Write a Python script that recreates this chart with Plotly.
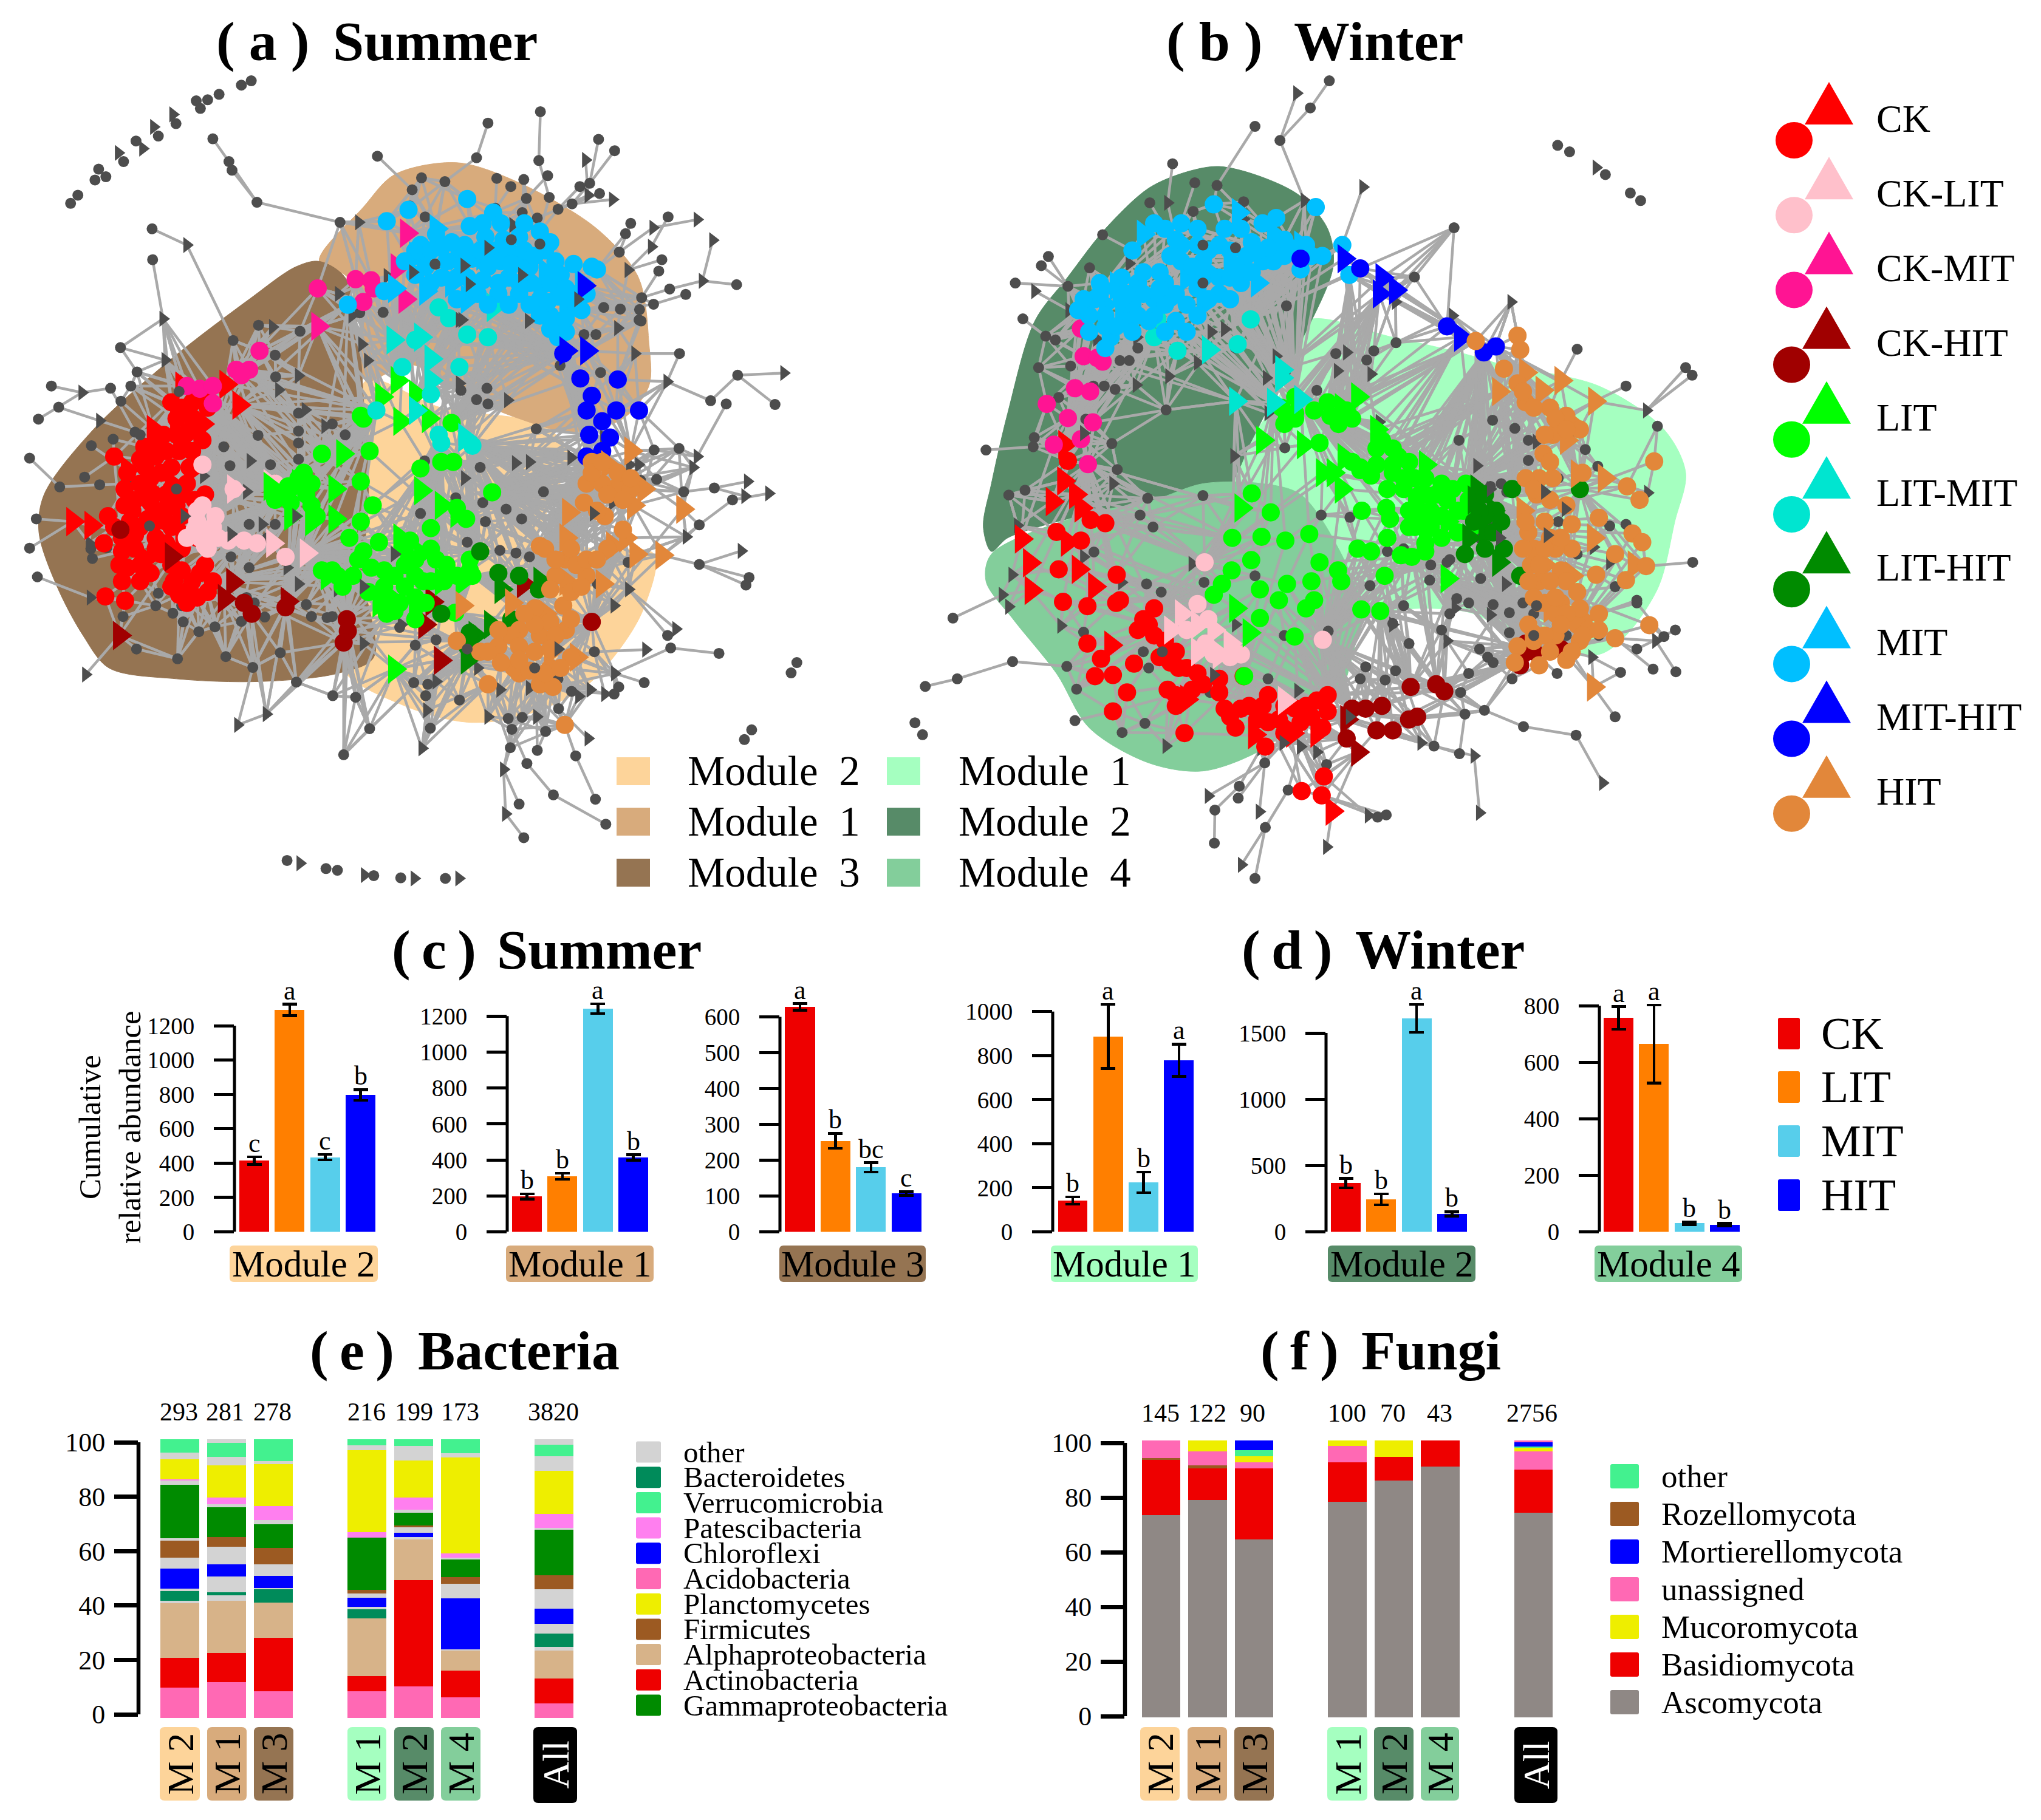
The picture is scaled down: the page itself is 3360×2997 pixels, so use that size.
import numpy as np
import plotly.graph_objects as go

W, H = 3360, 2997
FONT = "Liberation Serif"

# ---------- colours ----------
GROUP_COLORS = {"CK": "#FF0000", "CK-LIT": "#FFC0CB", "CK-MIT": "#FF1493", "CK-HIT": "#A00000",
                "LIT": "#00FF00", "LIT-MIT": "#00E5D0", "LIT-HIT": "#008B00", "MIT": "#00BFFF",
                "MIT-HIT": "#0000FF", "HIT": "#E2873A"}
GROUP_NAMES = list(GROUP_COLORS)
MOD_S = {"Module 2": "#FDD49A", "Module 1": "#D8AB7C", "Module 3": "#957452"}
MOD_W = {"Module 1": "#A5FFC0", "Module 2": "#578B68", "Module 4": "#83CE9B"}
TREAT = ["CK", "LIT", "MIT", "HIT"]
TREAT_COL = ["#EE0000", "#FF7F00", "#57CEEB", "#0000FF"]
GRAY = "#4D4D4D"

# ---------- module hull outlines ----------
S_M2 = [(705,590),(850,640),(1040,670),(1095,720),(1075,790),(1040,880),(1150,900),(1260,910),(1240,1010),(1190,1090),(1120,1160),(1000,1210),(900,1220),(780,1190),(660,1120),(700,1000),(705,800)]
S_M1 = [(615,370),(700,270),(760,210),(880,188),(1000,225),(1150,310),(1230,400),(1250,520),(1250,600),(1200,660),(1100,685),(1000,660),(900,620),(790,560),(705,590),(695,500),(670,400)]
S_M3 = [(615,370),(665,400),(690,500),(700,620),(710,800),(700,950),(720,1100),(650,1130),(500,1145),(340,1140),(210,1120),(160,1060),(110,970),(75,870),(85,800),(180,680),(330,550),(480,440),(570,380)]
W_M1 = [(840,480),(1000,510),(1130,540),(1200,560),(1380,600),(1500,680),(1540,760),(1520,850),(1490,970),(1430,1060),(1380,1095),(1250,1080),(1150,1020),(1050,1010),(960,1020),(880,1030),(720,950),(700,800),(740,700),(800,600)]
W_M2 = [(680,195),(760,215),(830,250),(880,310),(890,380),(830,520),(790,600),(740,700),(690,790),(560,810),(420,840),(290,880),(260,905),(245,860),(260,780),(290,650),(340,480),(400,400),(470,310),(550,235),(620,205)]
W_M4 = [(650,780),(760,780),(830,800),(900,900),(945,1020),(930,1080),(900,1170),(850,1200),(760,1270),(650,1310),(550,1295),(440,1230),(380,1130),(300,1030),(250,960),(260,910),(420,840),(560,810)]

# ---------- summer network nodes ----------
S_GRAY_C = [(410,144),(441,186),(447,202),(495,261),(655,298),(293,310),(294,367),(727,176),(940,115),(1041,94),(918,179),(1038,184),(1055,212),(812,216),(857,223),(957,217),(1009,219),(984,232),(1153,145),(1184,166),(1136,226),(1117,232),(1155,245),(794,238),(1014,254),(1058,252),(1075,274),(1102,264),(1006,280),(954,272),(790,268),(1035,290),(819,288),(1215,300),(1287,288),(1205,319),(1193,353),(1275,367),(1269,388),(1419,413),(1290,421),(1321,431),(1236,437),(1259,449),(1195,458),(1163,455),(1232,459),(1231,478),(1235,480),(1148,505),(1125,505),(1309,540),(1157,575),(1079,562),(1421,580),(1369,627),(1399,633),(1493,634),(1260,718),(1308,715),(1265,772),(1317,795),(1376,788),(1411,810),(1347,856),(1234,774),(1347,929),(1443,953),(1437,967),(1210,925),(1151,965),(1292,1083),(1286,1060),(1385,1093),(1241,1147),(1192,1155),(1183,1168),(1101,1163),(1076,1195),(1048,1155),(1109,1282),(1147,1362),(1167,1408),(1066,1354),(1035,1272),(1051,1237),(1009,1433),(1000,1371),(1015,1296),(983,1267),(979,1213),(1006,1211),(986,1233),(885,1179),(829,1231),(820,1171),(824,1150),(797,1147),(712,1232),(662,1280),(685,1174),(641,1171),(571,1146),(487,1119),(435,1099),(342,1103),(263,1085),(383,1053),(414,1044),(465,1034),(353,1035),(333,1019),(237,1025),(300,1005),(305,982),(510,1026),(540,1092),(600,1025),(590,1003),(630,1027),(175,900),(206,898),(57,733),(99,600),(113,639),(74,661),(232,529),(264,574),(213,604),(252,600),(233,628),(218,698),(176,710),(163,768),(115,786),(192,782),(70,845),(57,899),(72,952),(178,918),(449,516),(498,488),(578,499),(530,543),(531,583),(575,650),(497,691),(431,712),(443,747),(521,745),(575,683),(575,705),(575,735),(665,690),(738,464),(693,465),(840,375),(938,604),(940,633),(888,608),(918,625),(818,738),(925,750),(878,806),(810,835),(930,815),(975,827),(1047,795),(1033,679),(1005,845),(935,850),(900,888),(963,903),(994,908),(1020,915),(1075,1140),(1145,1090),(640,670),(490,1000),(475,990),(350,1005),(285,790),(245,780),(260,685),(288,858),(480,855),(530,855),(515,880),(445,915),(480,935),(640,1025),(770,1045),(800,1078),(840,1068)]
S_GRAY_T = [(158,612),(192,664),(318,552),(314,476),(360,340),(691,298),(525,491),(575,581),(537,607),(588,644),(626,674),(482,738),(392,766),(172,890),(174,990),(165,1132),(458,1225),(513,1205),(813,1268),(822,1198),(940,1210),(1133,1250),(970,1307),(974,1389),(1034,1210),(963,1160),(1020,1157),(1115,1172),(1137,1160),(1165,1168),(1184,1130),(1244,1086),(1302,1048),(1211,975),(1183,1005),(1322,878),(1428,904),(1481,798),(1440,776),(1435,803),(1335,750),(1343,730),(1510,576),(1285,592),(1223,540),(1190,493),(1353,406),(1373,331),(1343,293),(1258,308),(1255,343),(1210,386),(1128,183),(1180,256),(1133,248),(988,303),(947,345),(894,378),(904,412),(795,390),(746,397),(652,430),(678,470),(708,553),(697,523),(885,595),(978,626),(993,742),(1020,740),(1100,732),(1230,745),(1213,745),(1180,815),(1143,835),(1075,1085),(920,1120),(840,1145),(773,1040),(700,1075),(628,945),(650,975),(575,965),(553,935),(505,855),(445,873),(475,795),(585,775),(570,840),(760,910),(895,770),(1018,480),(1163,695),(1113,440),(1005,395),(890,478)]
S_ISO_C = [(136,263),(150,248),(183,220),(190,200),(204,214),(238,186),(262,148),(305,139),(339,116),(378,74),(386,88),(400,72),(422,62),(465,45),(484,37),(553,1475),(628,1490),(650,1493),(720,1503),(772,1507),(858,1508),(1535,1110),(1524,1129),(1448,1234),(1434,1252)]
S_ISO_T = [(228,170),(275,162),(296,122),(333,99),(578,1480),(702,1502),(798,1508),(884,1508)]
S_TOP_C = [(838,375),(985,330),(1040,338),(1030,1120),(900,1085),(288,858),(340,790),(270,690),(345,610)]
S_TOP_T = [(940,345),(894,378),(1005,395),(904,412),(795,390),(1113,440),(885,478),(1018,480),(355,840),(445,873),(570,840),(760,910),(700,970),(1143,835),(1075,1085)]
S_NODES = {
 "CK": ([(203,988),(241,996),(208,840),(240,820),(278,712),(220,730),(245,760),(280,795),(300,830),(260,810),(235,880),(200,890),(260,900),(300,880),(330,860),(340,820),(360,780),(330,750),(300,730),(350,700),(380,680),(340,660),(370,630),(400,640),(245,935),(235,960),(270,960),(330,970),(370,960),(380,990),(410,960),(395,930),(350,940),(310,910),(270,930),(290,770),(330,790),(375,810),(350,900),(380,880),(315,690),(285,845),(250,850),(395,800),(370,720),
         (270,735),(240,790),(310,760),(345,720),(365,750),(320,800),(290,815),(320,850),(270,860),(300,900),(260,875),(235,905),(290,945),(345,985),(400,980),(365,975),(385,945),(330,930),(350,800),(300,700),(370,660),(340,690),(390,700),(320,720),(280,750),(255,830),(220,860),(300,850),(320,890),(335,960),(360,1000),(230,930),(350,640),(330,630),(390,620),(350,840),(270,780)],
        [(140,850),(175,857),(350,600),(375,630),(435,597),(460,635),(295,680),(340,660),(360,690),(390,670),(245,755),(375,750),(300,800),(320,830),(350,870),(280,920),(330,780)]),
 "CK-LIT": ([(390,820),(390,745),(450,790),(530,780),(550,915),(410,860),(385,880),(440,885),(470,885),(495,890),(400,900),(360,880),(380,850),(380,830),(400,870),(420,880),(375,865),(395,895),(415,840)],
            [(525,890),(590,908),(450,790),(520,780)]),
 "CK-MIT": ([(612,420),(685,403),(715,405),(700,445),(720,420),(500,535),(455,570),(480,570),(465,580),(410,632),(385,605),(410,600),(360,600)],
            [(783,318),(765,382),(780,440),(612,490)]),
 "CK-HIT": ([(232,865),(485,1020),(550,1008),(668,1030),(670,1052),(662,1073),(1140,1035),(470,1000)],
            [(230,1060),(448,962),(432,992),(330,915),(553,997),(818,1040),(832,998),(848,1106),(1008,965)]),
 "LIT": ([(712,720),(695,655),(810,752),(850,740),(873,740),(695,776),(948,796),(718,820),(695,850),(830,862),(898,845),(880,825),(870,668),(620,725),(585,760),(555,785),(590,800),(530,810),(610,840),(673,880),(730,888),(700,905),(640,940),(680,950),(715,935),(660,970),(740,970),(770,1000),(745,1020),(800,990),(815,960),(860,930),(905,920),(910,950),(855,960),(877,1018),(800,920),(790,885),(820,1000),(700,660),
         (760,950),(780,930),(800,950),(830,960),(840,920),(880,950),(780,970),(740,940),(710,980),(745,990),(690,920),(650,950),(620,940),(560,815),(600,820),(575,770),(600,780),(540,800),(760,1015),(800,1030),(905,940),(780,900),(830,900)],
         [(810,793),(645,790),(560,840),(600,850),(645,845),(770,880),(850,820),(880,835),(735,620),(765,590),(800,615),(770,665),(825,660),(660,725),(630,950),(730,1000),(765,1000),(810,910),(850,960),(760,1122),(520,785),(575,780),(890,960),(800,1010)]),
 "LIT-MIT": ([(725,645),(775,565),(830,615),(885,565),(940,510),(900,505),(865,475),(845,455),(800,515),(845,690),(850,705),(910,710)],
             [(757,515),(810,510),(830,550),(830,590),(950,455),(800,645),(895,695)]),
 "LIT-HIT": ([(925,905),(985,1030),(1038,975),(900,1080),(1000,950),(960,945),(850,1020),(905,1055)],
             [(965,975),(945,1040),(900,1105),(915,1060),(1040,960)]),
 "MIT": ([(745,296),(787,275),(900,255),(950,280),(905,305),(935,325),(965,300),(1000,325),(1040,315),(1060,335),(1105,375),(1140,380),(840,320),(800,350),(820,380),(860,370),(900,400),(940,380),(980,400),(1020,380),(1060,410),(1100,440),(1075,480),(1120,460),(1040,440),(1000,430),(960,430),(920,430),(880,440),(1090,500),(1060,470),(1050,350),(980,350),(895,340),(670,450),(740,425),
         (810,340),(830,350),(850,345),(870,335),(890,375),(910,365),(925,350),(950,350),(965,370),(985,375),(1010,350),(1030,360),(1070,370),(1080,395),(1090,420),(1075,435),(1055,445),(1020,410),(1000,410),(960,410),(930,405),(910,420),(880,400),(850,400),(830,410),(800,395),(780,370),(1060,495),(1090,475),(1110,430),(1040,470),(1020,450),(980,450),(940,450),(1075,510),(1130,430),(1150,385),(1010,300),(970,330),(930,300)],
         [(840,310),(880,360),(800,360),(930,360),(1000,370),(1050,390),(1090,460),(1120,410),(760,420),(820,425),(870,410),(900,440),(1040,420)]),
 "MIT-HIT": ([(1118,586),(1190,588),(1231,645),(1140,618),(1130,645),(1187,645),(1160,665),(1135,690),(1175,695),(1130,730),(1160,720),(1085,540)],
             [(1090,535),(1130,535),(1125,415)]),
 "HIT": ([(1088,1225),(1040,1150),(940,1150),(1065,1155),(1000,1130),(1060,1120),(960,1080),(1040,1060),(1090,1050),(1085,1005),(1030,1010),(1000,1050),(1140,740),(1190,785),(1130,780),(1215,790),(1125,815),(1165,840),(1040,895),(1090,920),(1130,950),(1070,950),(880,1070),(925,1090),(990,1120),(1100,1100),
          (1050,900),(1070,920),(1100,900),(1110,930),(1130,920),(1060,975),(1100,980),(1120,970),(1100,1030),(1060,1035),(1070,1060),(1030,1040),(1010,1020),(985,1060),(960,1050),(1000,1080),(1030,1090),(1060,1085),(1000,1105),(965,1110),(940,1090),(1020,1125),(1050,1130),(1080,1120),(1160,780),(1190,760),(1170,800),(1215,770),(1200,810),(1150,830),(1170,900),(1200,865),(1150,920),(1140,760),(1160,740)],
         [(1315,827),(1275,912),(1225,910),(1095,833),(1205,880),(1180,895),(1160,965),(1090,880),(1240,790),(1215,720),(1170,745),(1220,820),(1060,1090),(1110,1100),(985,1000),(890,1005),(1050,1020),(1090,960)]),
}

# ---------- winter network nodes ----------
W_GRAY_C = [(883,37),(848,87),(746,121),(792,147),(594,190),(635,225),(676,230),(725,260),(552,262),(632,278),(465,321),(365,361),(352,378),(304,410),(441,382),(401,416),(318,476),(378,515),(360,508),(347,566),(406,563),(384,621),(448,600),(488,606),(468,600),(497,553),(514,553),(530,530),(250,718),(337,712),(339,695),(292,801),(322,792),(434,661),(482,706),(492,754),(548,807),(534,838),(558,860),(650,802),(582,644),(710,530),(804,452),(802,574),(860,608),(801,714),(1113,308),(1040,399),(1006,520),(965,535),(952,552),(895,540),(1340,532),(1430,600),(1540,566),(1552,580),(1488,674),(1378,748),(1355,717),(1325,690),(1184,663),(1122,700),(1225,678),(1250,737),(1277,730),(1210,795),(1180,785),(1553,925),(1522,1127),(1480,1122),(1521,1050),(1500,1062),(1450,995),(1410,970),(1400,858),(1340,910),(1410,1210),(1338,1244),(1241,1228),(1169,1198),(1133,1205),(1123,1278),(1076,1264),(988,1391),(972,1395),(878,1298),(807,1345),(765,1414),(746,1508),(671,1443),(715,1360),(717,1338),(672,1382),(764,1295),(417,1159),(399,1117),(414,1217),(501,1239),(543,1222),(138,1154),(197,1140),(299,1108),(189,1028),(430,1054),(449,906),(546,965),(573,980),(652,962),(746,950),(800,1060),(881,1052),(958,968),(950,1118),(940,1140),(986,1142),(1005,1125),(1030,1075),(1000,1038),(1020,1005),(1105,920),(1068,958),(1140,1000),(1118,992),(1162,955),(1185,1003),(1215,1018),(1240,1000),(1215,1055),(1185,1110),(1160,1085),(1090,1050),(1140,1130),(1125,1165),(1175,1100),(770,1140),(663,1165),(575,1095),(550,1120),(1220,1140),(1260,1020),(1260,1060),(1320,1060),(1305,1090),(1303,1130),(1420,1128),(1380,1060),(1450,1000),(1450,1085),(1430,855),(1180,860),(1160,880),(921,842),(868,838),(1305,850),(1305,770),(1250,700),(1200,780),(1160,790),(1100,925),(990,905),(1020,900),(1070,930),(1105,1020)]
W_GRAY_T = [(823,60),(945,233),(720,275),(837,258),(585,262),(725,292),(514,374),(340,425),(403,460),(454,513),(528,510),(690,495),(665,500),(527,598),(640,557),(587,582),(785,545),(430,687),(484,780),(308,857),(298,948),(280,985),(292,1007),(388,1042),(430,915),(500,962),(630,928),(710,1040),(582,1264),(660,1356),(754,1385),(721,1483),(878,1450),(955,1392),(1052,1258),(1150,1282),(1160,1387),(1387,1332),(1218,445),(1005,445),(1110,470),(915,538),(898,572),(960,578),(975,666),(1468,645),(1470,797),(1318,827),(1285,875),(1280,795),(1370,897),(1155,747),(1400,925),(1208,965),(1115,1010),(1100,1070),(1180,1022),(1485,1070),(1367,1100),(670,1133),(825,1162),(860,1275),(830,1265),(798,1258),(757,1268),(920,1210),(707,729),(770,650),(767,585),(1197,880),(1265,703),(1000,1040)]
W_ISO_C = [(1304,156),(1326,168),(1392,210),(1438,244),(1457,258),(119,1221),(133,1243)]
W_ISO_T = [(1375,197)]
W_TOP_C = [(650,410),(650,340),(710,345),(1265,1005),(1260,1060),(540,1090),(575,1090)]
W_TOP_T = [(690,495),(665,500),(430,687),(1280,795),(1318,827),(1285,875),(670,1133),(830,1265),(798,1258),(920,1210),(1197,880),(1180,790)]
W_NODES = {
 "CK": ([(401,738),(443,847),(470,853),(380,869),(425,885),(384,938),(491,948),(392,998),(437,1006),(490,1000),(497,995),(437,1075),(462,1103),(523,1112),(484,1133),(451,1135),(510,1165),(484,1200),(616,1240),(560,1010),(530,1050),(580,1070),(605,1120),(640,1130),(585,1160),(600,1190),(690,1195),(710,1230),(735,1190),(770,1170),(790,1215),(830,1220),(860,1180),(880,1170),(870,1230),(765,1265),(873,1320),(832,1347),(869,1355),(725,1135),(680,1165),(550,1040),
         (720,1195),(750,1215),(760,1190),(800,1190),(820,1195),(840,1190),(850,1210),(800,1240),(770,1220),(880,1200),(700,1210),(570,1100),(590,1110),(620,1120),(650,1150),(630,1160),(600,1170),(540,1030),(560,1060),(600,1090),(680,1140)],
        [(395,708),(393,775),(372,813),(415,800),(425,825),(315,882),(330,926),(400,888),(420,938),(333,977),(450,970),(480,1078),(620,1178),(745,1243),(815,1240),(888,1384),(860,1240)]),
 "CK-LIT": ([(653,925),(871,1068),(640,1002),(720,1095),(700,1100),(620,1050),(660,1030),(655,1075),(670,1095)],
            [(610,1020),(640,1040),(670,1050),(640,1090),(680,1095),(700,1075),(800,1180),(590,1050)]),
 "CK-MIT": ([(362,633),(401,659),(447,667),(375,708),(425,698),(438,744),(414,604),(442,610),(430,545),(455,548),(465,555),(425,494),(431,460)], []),
 "CK-HIT": ([(1033,1155),(1080,1150),(1095,1163),(1030,1215),(1045,1210),(1000,1235),(970,1235),(980,1190),(950,1195),(925,1195),(915,1250),(1235,1115),(1245,1075),(1310,1085),(1260,1090),(1240,1095)],
            [(935,1275),(915,1215)]),
 "LIT": ([(740,798),(775,833),(704,880),(758,878),(802,885),(846,873),(739,921),(703,940),(865,925),(850,960),(899,940),(905,960),(960,905),(935,900),(985,950),(942,1012),(977,1015),(755,1028),(819,1062),(726,1135),(685,965),(670,985),(755,975),(805,965),(790,995),(855,995),(840,1010),(1015,912),(1035,915),(1060,905),(990,880),(995,845),(988,825),(943,830),(865,705),(925,660),(885,655),(855,645),(990,790),(1000,715),(970,715),(1030,740),(1080,800),(1050,800),(1100,810),(1030,830),(1070,860),(940,750),(960,765),(1000,745),(795,640),(820,650),(1135,780),
          (1040,770),(1060,770),(1090,780),(1110,790),(1070,830),(1050,840),(1090,840),(1120,830),(1120,870),(1090,880),(1060,890),(1040,860),(1020,790),(1000,760),(970,745),(1020,770),(1060,800),(1030,860),(1130,830),(1140,810),(820,620),(800,670),(880,630),(915,645),(900,670),(820,660),(940,755),(925,740),(980,700),(1010,730)],
         [(890,760),(905,790),(720,825),(760,700),(835,708),(910,732),(935,620),(800,650),(905,640),(970,680),(1060,745),(1040,820),(1100,850),(1150,860),(1100,955),(735,1055),(710,1010),(1060,870),(870,760)]),
 "LIT-MIT": ([(566,476),(738,477),(603,535),(714,523),(560,510)],
             [(660,533),(710,628),(795,570),(795,585),(830,625),(780,630)]),
 "LIT-HIT": ([(1220,790),(1345,790),(1133,910),(1235,950),(1190,830),(1170,840),(1170,800),(1160,830),(1200,850),(1185,870),(1205,900),(1150,850),(1170,900)],
             [(1155,790),(1150,810),(1185,830),(1140,880),(1195,925),(1170,870)]),
 "MIT": ([(670,265),(858,270),(560,300),(520,350),(785,290),(610,300),(640,310),(740,335),(830,385),(907,340),(870,360),(840,340),(800,330),(760,370),(720,380),(680,340),(650,370),(610,370),(570,390),(530,410),(490,420),(450,440),(420,460),(470,470),(510,480),(480,510),(520,450),(560,440),(600,430),(640,420),(680,430),(720,410),(600,480),(640,470),(560,470),(920,395),
         (440,470),(460,430),(470,490),(500,440),(490,490),(530,470),(540,430),(550,480),(580,410),(620,450),(580,450),(650,400),(680,400),(700,400),(740,390),(780,370),(800,360),(700,350),(640,340),(610,340),(590,360),(540,390),(510,430),(440,500),(520,500),(470,530),(620,500),(580,500),(660,440),(700,440),(660,350),(770,345),(810,345),(850,360),(750,350),(730,360),(690,310),(720,310),(760,300),(600,330),(570,420),(460,410),(430,440),(500,400),(580,310),(630,380)],
         [(540,320),(715,280),(780,320),(790,350),(830,340),(490,415),(470,450),(500,470),(620,400),(660,390),(700,370),(590,440),(650,450),(750,410)]),
 "MIT-HIT": ([(830,365),(940,383),(1100,490),(1190,527),(1168,538)],
             [(980,400),(975,430),(1005,423),(1125,510),(910,365)]),
 "HIT": ([(1230,507),(1235,533),(1153,517),(1205,568),(1230,595),(1245,630),(1290,640),(1320,655),(1345,680),(1295,690),(1278,725),(1482,739),(1432,785),(1455,810),(1380,843),(1442,872),(1460,888),(1410,910),(1467,932),(1430,958),(1375,948),(1473,1041),(1410,1065),(1380,1020),(1340,1040),(1310,1000),(1270,960),(1310,940),(1330,900),(1260,900),(1280,850),(1330,855),(1270,770),(1295,770),(1350,760),(1250,1040),(1300,1060),(1230,1080),(1225,1110),(1270,1115),(1320,1105),(1280,1000),(1320,960),(1255,930),(1300,900),(1345,1010),(1345,1070),
          (1265,800),(1290,810),(1320,820),(1250,870),(1290,880),(1310,880),(1250,960),(1280,900),(1290,960),(1270,1000),(1300,1020),(1320,1020),(1260,1070),(1280,1060),(1340,980),(1290,1090),(1330,1090),(1360,1050),(1380,1050),(1260,990),(1310,1040),(1350,1060),(1240,900),(1270,930),(1300,990),(1245,770),(1290,740),(1240,610),(1260,640),(1300,660),(1280,690),(1320,680),(1260,790),(1245,850)],
         [(1195,610),(1245,575),(1275,608),(1310,590),(1372,628),(1325,665),(1320,700),(1340,762),(1390,770),(1240,830),(1280,930),(1370,880),(1445,930),(1370,1155),(1330,950),(1290,1010),(1255,1050),(1350,1030)]),
}

# ---------- abundance bars ----------
MODULE_BARS = {
 "c1": dict(label="Module 2", col=MOD_S["Module 2"], vals=[415,1292,434,797], errs=[22,33,16,31], sig=["c","a","c","b"], ticks=[0,200,400,600,800,1000,1200]),
 "c2": dict(label="Module 1", col=MOD_S["Module 1"], vals=[197,309,1242,414], errs=[15,17,27,15], sig=["b","b","a","b"], ticks=[0,200,400,600,800,1000,1200]),
 "c3": dict(label="Module 3", col=MOD_S["Module 3"], vals=[628,254,180,107], errs=[9,21,13,5], sig=["a","b","bc","c"], ticks=[0,100,200,300,400,500,600]),
 "d1": dict(label="Module 1", col=MOD_W["Module 1"], vals=[142,887,225,779], errs=[16,146,47,73], sig=["b","a","b","a"], ticks=[0,200,400,600,800,1000]),
 "d2": dict(label="Module 2", col=MOD_W["Module 2"], vals=[368,245,1610,135], errs=[35,42,105,17], sig=["b","b","a","b"], ticks=[0,500,1000,1500]),
 "d3": dict(label="Module 4", col=MOD_W["Module 4"], vals=[757,665,31,25], errs=[40,138,5,5], sig=["a","a","b","b"], ticks=[0,200,400,600,800]),
}
# ---------- composition ----------
COMP_POS = [0,1,2,4,5,6,8]
COMP_LAB = ["M 2","M 1","M 3","M 1","M 2","M 4","All"]
COMP_COL = [MOD_S["Module 2"],MOD_S["Module 1"],MOD_S["Module 3"],MOD_W["Module 1"],MOD_W["Module 2"],MOD_W["Module 4"],"#000000"]
BAC_N = [293,281,278,216,199,173,3820]
FUN_N = [145,122,90,100,70,43,2756]
C_OTHER="#D3D3D3"; C_BACT="#008B5A"; C_VERR="#43F18F"; C_PATE="#FF7FEF"; C_CHLO="#0000FF"; C_ACID="#FF69B4"
C_PLAN="#EEEE00"; C_FIRM="#9C5A22"; C_ALPH="#D7B389"; C_ACTI="#EE0000"; C_GAMM="#008B00"; C_ASCO="#8F8885"
BAC = [
 ("Acidobacteria",C_ACID,[10.8,12.9,9.5,9.5,11.4,7.5,5.3]),
 ("Actinobacteria",C_ACTI,[10.8,10.5,19.3,5.6,38.1,9.5,8.9]),
 ("Alphaproteobacteria",C_ALPH,[19.6,18.7,12.7,20.7,14.6,7.1,10.0]),
 ("other",C_OTHER,[0.8,2.0,0,0,0.9,0.6,1.2]),
 ("Bacteroidetes",C_BACT,[3.5,0.9,4.7,3.2,0,0,4.9]),
 ("other",C_OTHER,[0.9,5.8,0.5,0.9,0,0,3.5]),
 ("Chloroflexi",C_CHLO,[7.3,4.3,4.3,3.3,1.5,18.3,5.4]),
 ("other",C_OTHER,[3.8,6.3,4.1,1.4,1.9,5.2,6.9]),
 ("Firmicutes",C_FIRM,[6.2,3.5,5.8,1.4,0.7,2.4,5.1]),
 ("other",C_OTHER,[0.7,0,0,0,0,0,0]),
 ("Gammaproteobacteria",C_GAMM,[19.2,10.6,8.7,18.6,4.6,6.3,16.3]),
 ("other",C_OTHER,[1.5,1.2,1.5,0,1.1,0.7,0.8]),
 ("Patescibacteria",C_PATE,[0.5,2.4,4.9,2.0,4.3,1.5,4.8]),
 ("Planctomycetes",C_PLAN,[7.3,11.5,15.0,29.4,13.2,34.3,15.5]),
 ("other",C_OTHER,[2.2,3.1,1.1,1.8,5.3,1.5,5.2]),
 ("Verrucomicrobia",C_VERR,[4.8,5.1,7.9,2.2,2.5,5.1,4.3]),
 ("other",C_OTHER,[0,1.3,0,0,0,0,1.8]),
]
FUN = [
 ("Ascomycota",C_ASCO,[73.1,78.6,64.3,77.9,85.6,90.5,74.0]),
 ("Basidiomycota",C_ACTI,[19.9,11.4,25.7,14.1,8.5,9.5,15.5]),
 ("Rozellomycota",C_FIRM,[0.6,1.1,0,0,0,0,0]),
 ("unassigned",C_ACID,[6.4,4.9,2.1,6.0,0,0,6.6]),
 ("Mucoromycota",C_PLAN,[0,4.0,2.2,2.0,5.9,0,1.3]),
 ("other",C_VERR,[0,0,2.1,0,0,0,0.5]),
 ("Mortierellomycota",C_CHLO,[0,0,3.6,0,0,0,1.4]),
 ("unassigned",C_ACID,[0,0,0,0,0,0,0.7]),
]
BAC_LEG = ["other","Bacteroidetes","Verrucomicrobia","Patescibacteria","Chloroflexi","Acidobacteria","Planctomycetes","Firmicutes","Alphaproteobacteria","Actinobacteria","Gammaproteobacteria"]
BAC_LEG_COL = [C_OTHER,C_BACT,C_VERR,C_PATE,C_CHLO,C_ACID,C_PLAN,C_FIRM,C_ALPH,C_ACTI,C_GAMM]
FUN_LEG = ["other","Rozellomycota","Mortierellomycota","unassigned","Mucoromycota","Basidiomycota","Ascomycota"]
FUN_LEG_COL = [C_VERR,C_FIRM,C_CHLO,C_ACID,C_PLAN,C_ACTI,C_ASCO]

# =====================================================================
fig = go.Figure()
layout = dict(template="none", width=W, height=H, margin=dict(l=0,r=0,t=0,b=0,pad=0,autoexpand=False), paper_bgcolor="white", plot_bgcolor="rgba(0,0,0,0)",
              showlegend=False, bargap=0, barmode="stack")
shapes, annots = [], []
n_axis = [1]

def dom_x(a, b): return [a/W, b/W]
def dom_y(top, bot): return [1-bot/H, 1-top/H]

def new_axes(xd, yd, xr, yr, **yaxis_kw):
    n_axis[0] += 1
    k = n_axis[0]
    layout[f"xaxis{k}"] = dict(domain=xd, range=xr, visible=False, fixedrange=True, anchor=f"y{k}", automargin=False)
    ya = dict(domain=yd, range=yr, visible=False, fixedrange=True, anchor=f"x{k}", showgrid=False, zeroline=False, automargin=False)
    ya.update(yaxis_kw)
    layout[f"yaxis{k}"] = ya
    return f"x{k}", f"y{k}"

# pixel overlay
layout["xaxis"] = dict(domain=[0,1], range=[0,W], visible=False, fixedrange=True, anchor="y", automargin=False)
layout["yaxis"] = dict(domain=[0,1], range=[H,0], visible=False, fixedrange=True, anchor="x", automargin=False)
fig.add_trace(go.Scatter(x=[0], y=[0], mode="markers", marker=dict(size=1, opacity=0), xaxis="x", yaxis="y", hoverinfo="skip"))

def text(x, y, s, size, xanchor="left", yanchor="middle", color="black", bold=False, angle=0):
    annots.append(dict(x=x, y=y, xref="x", yref="y", text=f"<b>{s}</b>" if bold else s, showarrow=False,
                       xanchor=xanchor, yanchor=yanchor, textangle=angle,
                       font=dict(family=FONT, size=size, color=color)))

def round_rect(x0, y0, x1, y1, r, col):
    p = (f"M{x0+r},{y0} L{x1-r},{y0} Q{x1},{y0} {x1},{y0+r} L{x1},{y1-r} Q{x1},{y1} {x1-r},{y1} "
         f"L{x0+r},{y1} Q{x0},{y1} {x0},{y1-r} L{x0},{y0+r} Q{x0},{y0} {x0+r},{y0} Z")
    shapes.append(dict(type="path", path=p, xref="x", yref="y", fillcolor=col, line=dict(width=0), layer="below"))

def rect(x0, y0, x1, y1, col):
    shapes.append(dict(type="rect", x0=x0, x1=x1, y0=y0, y1=y1, xref="x", yref="y", fillcolor=col, line=dict(width=0)))

# ---------- networks ----------
def build_edges(nodes, gray_c, gray_t, centre):
    col_pts, grp = [], []
    for g, (c, t) in nodes.items():
        for p in list(c)+list(t):
            col_pts.append(p); grp.append(g)
    col = np.array(col_pts, float)
    gray = np.array(list(gray_c)+list(gray_t), float)
    allp = np.vstack([col, gray])
    r_all = np.hypot(*(allp-centre).T)
    ex, ey = [], []
    def seg(a, b):
        ex.extend([a[0], b[0], None]); ey.extend([a[1], b[1], None])
    for p in gray:
        d = np.hypot(*(allp-p).T); order = np.argsort(d)
        rp = np.hypot(*(p-centre))
        # one radial link: towards the middle of the network
        inward = [i for i in order[1:] if r_all[i] < rp-50]
        if inward:
            seg(p, allp[inward[0]])
        # interior nodes have more links, outer leaves only the radial one
        if rp < 560:
            for i in order[1:3]:
                if d[i] < 110:
                    seg(p, allp[i])
            d2 = np.hypot(*(col-p).T); o2 = np.argsort(d2)
            if d2[o2[0]] < 200:
                for i in o2[:5]:
                    seg(p, col[i])
    grp = np.array(grp)
    for i, p in enumerate(col):
        d = np.hypot(*(allp-p).T); order = np.argsort(d)
        for j in order[1:3]:
            seg(p, allp[j])
        for g in sorted(set(grp)):
            if g != grp[i]:
                sel = np.where(grp == g)[0]
                d3 = np.hypot(*(col[sel]-p).T)
                j = sel[np.argmin(d3)]
                if d3.min() < 300:
                    seg(p, col[j])
    return ex, ey

def network(xdom, hulls, nodes, gc, gt, ic, it, topc, topt, centre):
    xa, ya = new_axes(xdom, dom_y(100,1500), [0,1568], [1568,0])
    common = dict(xaxis=xa, yaxis=ya, hoverinfo="skip", cliponaxis=False)
    for pts, col in hulls:
        pp = pts+[pts[0]]
        fig.add_trace(go.Scatter(x=[p[0] for p in pp], y=[p[1] for p in pp], mode="lines", fill="toself", fillcolor=col,
                                 line=dict(color=col, width=1, shape="spline", smoothing=0.9), **common))
    ex, ey = build_edges(nodes, gc, gt, np.array(centre, float))
    fig.add_trace(go.Scatter(x=ex, y=ey, mode="lines", line=dict(color="#A9A9A9", width=4.5), connectgaps=False, **common))
    def gray(c, t):
        fig.add_trace(go.Scatter(x=[p[0] for p in c], y=[p[1] for p in c], mode="markers",
                                 marker=dict(symbol="circle", size=18, color=GRAY, line=dict(width=0)), **common))
        fig.add_trace(go.Scatter(x=[p[0] for p in t], y=[p[1] for p in t], mode="markers",
                                 marker=dict(symbol="triangle-right", size=23, color=GRAY, line=dict(width=0)), **common))
    gray(gc+ic, gt+it)
    for g in GROUP_NAMES:
        c, t = nodes[g]
        if t:
            fig.add_trace(go.Scatter(x=[p[0] for p in t], y=[p[1] for p in t], mode="markers",
                                     marker=dict(symbol="triangle-right", size=42, color=GROUP_COLORS[g], line=dict(width=0)), **common))
        fig.add_trace(go.Scatter(x=[p[0] for p in c], y=[p[1] for p in c], mode="markers",
                                 marker=dict(symbol="circle", size=30, color=GROUP_COLORS[g], line=dict(width=0)), **common))
    gray(topc, topt)

network(dom_x(0,1340), [(S_M2,MOD_S["Module 2"]),(S_M1,MOD_S["Module 1"]),(S_M3,MOD_S["Module 3"])], S_NODES, S_GRAY_C, S_GRAY_T, S_ISO_C, S_ISO_T, S_TOP_C, S_TOP_T, (780,760))
network(dom_x(1400,2800), [(W_M1,MOD_W["Module 1"]),(W_M2,MOD_W["Module 2"]),(W_M4,MOD_W["Module 4"])], W_NODES, W_GRAY_C, W_GRAY_T, W_ISO_C, W_ISO_T, W_TOP_C, W_TOP_T, (820,780))

# ---------- titles ----------
TITLE_SIZE = 92
NB = "\u00a0"
THIN = "\u2009"
TITLES = [  # panel letter, word, left of the bracket, left of the word, y, spacer
 ("a", "Summer", 354, 546, 68, NB),
 ("b", "Winter", 1918, 2128, 68, NB),
 ("c", "Summer", 643, 816, 1564, THIN),
 ("d", "Winter", 2042, 2229, 1564, THIN),
 ("e", "Bacteria", 508, 686, 2224, THIN),
 ("f", "Fungi", 2073, 2239, 2224, THIN),
]
for letter, word, x_br, x_word, y, sp in TITLES:
    text(x_br, y, f"({sp}{letter}{sp})", TITLE_SIZE, bold=True)
    text(x_word, y, word, TITLE_SIZE, bold=True)

# ---------- network legend ----------
for i, g in enumerate(GROUP_NAMES):
    y = 205 + i*123.2
    dx = 0 if i < 3 else -4
    shapes.append(dict(type="path", path=f"M{2971+dx},{y} L{3051+dx},{y} L{3011+dx},{y-70} Z", xref="x", yref="y",
                       fillcolor=GROUP_COLORS[g], line=dict(width=0)))
    shapes.append(dict(type="circle", x0=2923+dx, x1=2984+dx, y0=y-4, y1=y+56, xref="x", yref="y",
                       fillcolor=GROUP_COLORS[g], line=dict(width=0)))
    text(3087, y-10, g, 64)

# ---------- module legends ----------
for i, (m, c) in enumerate(MOD_S.items()):
    y0 = [1247,1330,1414][i]
    rect(1015, y0, 1070, y0+46, c)
    text(1130, y0+23, m.replace(" ", NB+NB), 69)
for i, (m, c) in enumerate(MOD_W.items()):
    y0 = [1247,1330,1414][i]
    rect(1460, y0, 1515, y0+46, c)
    text(1576, y0+23, m.replace(" ", NB+NB), 69)

# ---------- abundance panels ----------
BAR_GEOM = {  # axis x, pixel y of top tick, first bar centre, bar spacing, label rect x0,x1
 "c1": (386,1689,418.5,58.4,378,622),
 "c2": (835,1673.3,867.5,58.4,833,1076),
 "c3": (1284,1674.5,1317,58.4,1283,1524),
 "d1": (1733,1665.8,1766,58.3,1730,1972),
 "d2": (2183,1701,2215.5,58.3,2186,2429),
 "d3": (2633,1656.3,2664.5,58.3,2625,2868),
}
Y0 = 2028.5
for key, d in MODULE_BARS.items():
    ax, ytop, cx, sp, lx0, lx1 = BAR_GEOM[key]
    top_px = 1620
    scale = (Y0-ytop)/d["ticks"][-1]
    ymax = (Y0-top_px)/scale
    x_lo = (ax-cx)/sp
    x_hi = 3.55
    xa, ya = new_axes(dom_x(ax, cx+x_hi*sp), dom_y(top_px, Y0), [x_lo, x_hi], [0, ymax],
                      visible=True, showline=False, ticks="outside", ticklen=33, tickwidth=5, tickcolor="black",
                      tickvals=d["ticks"], ticktext=[str(t) for t in d["ticks"]], ticklabelstandoff=24,
                      tickfont=dict(family=FONT, size=39, color="black"))
    fig.add_trace(go.Bar(x=[0,1,2,3], y=d["vals"], width=0.84, marker=dict(color=TREAT_COL, line=dict(width=0)),
                         error_y=dict(type="data", array=d["errs"], visible=True, color="black", thickness=4.5, width=12),
                         xaxis=xa, yaxis=ya, hoverinfo="skip"))
    shapes.append(dict(type="line", xref=f"{xa} domain", yref=ya, x0=0, x1=0, y0=0, y1=d["ticks"][-1],
                       line=dict(color="black", width=5)))
    for i, s in enumerate(d["sig"]):
        annots.append(dict(x=i, y=d["vals"][i]+d["errs"][i], xref=xa, yref=ya, text=s, showarrow=False, yanchor="bottom",
                           yshift=-4, font=dict(family=FONT, size=44, color="black")))
    round_rect(lx0, 2051, lx1, 2111, 7, d["col"])
    text((lx0+lx1)/2, 2081, d["label"], 61, xanchor="center")

text(148, 1856, "Cumulative", 51, xanchor="center", angle=-90)
text(214, 1856, "relative abundance", 51, xanchor="center", angle=-90)

for i, t in enumerate(TREAT):
    y0 = [1676,1764,1853,1942][i]
    round_rect(2927, y0, 2963, y0+52, 3, TREAT_COL[i])
    text(2996, y0+26, t, 74)

# ---------- composition panels ----------
def composition(series, ax, cx, sp, ytop, ybot, t0, t100, counts, count_y, leg, leg_col, leg_x, leg_tx, leg_y, leg_step, leg_h, leg_w, leg_font, lab_x):
    x_hi = 8.6
    x_lo = (ax-cx)/sp
    pos = [(ybot-t0 + (t0-t100)*v/100)/(ybot-ytop)*100 for v in (0,20,40,60,80,100)]
    xa, ya = new_axes(dom_x(ax, cx+x_hi*sp), dom_y(ytop, ybot), [x_lo, x_hi], [0,100],
                      visible=True, showline=False, ticks="outside", ticklen=39, tickwidth=6.5, tickcolor="black",
                      tickvals=pos, ticktext=["0","20","40","60","80","100"], ticklabelstandoff=6,
                      tickfont=dict(family=FONT, size=44, color="black"))
    for name, col, vals in series:
        fig.add_trace(go.Bar(x=COMP_POS, y=vals, width=0.83, name=name, marker=dict(color=col, line=dict(width=0)),
                             xaxis=xa, yaxis=ya, hoverinfo="skip"))
    shapes.append(dict(type="line", xref=f"{xa} domain", yref=ya, x0=0, x1=0, y0=pos[0], y1=pos[-1], line=dict(color="black", width=6.5)))
    for i, p in enumerate(COMP_POS):
        annots.append(dict(x=counts[1][i], y=count_y, xref="x", yref="y", text=str(counts[0][i]), showarrow=False,
                           font=dict(family=FONT, size=42, color="black")))
        x0, x1 = lab_x[i]
        bot = 2969 if COMP_LAB[i] == "All" else 2965
        round_rect(x0, 2844, x1, bot, 8, COMP_COL[i])
        text((x0+x1)/2, (2844+bot)/2, COMP_LAB[i].replace(" ", NB), 62, xanchor="center",
             color="white" if COMP_LAB[i] == "All" else "black", angle=-90)
    for i, (n, c) in enumerate(zip(leg, leg_col)):
        y = leg_y + i*leg_step
        round_rect(leg_x, y-leg_h/2, leg_x+leg_w, y+leg_h/2, 3, c)
        text(leg_tx, y, n, leg_font)

composition(BAC, 228, 296, 77, 2370, 2829, 2823, 2375, (BAC_N,[294,370,448,603,681,757,911]), 2325,
            BAC_LEG, BAC_LEG_COL, 1047, 1123, 2391, 41.7, 35, 41, 49,
            [(263,329),(341,406),(418,483),(572,636),(649,714),(726,791),(878,950)])
composition(FUN, 1852, 1911.5, 76.6, 2372, 2828, 2826, 2376, (FUN_N,[1910,1987,2062,2217,2293,2370,2522]), 2327,
            FUN_LEG, FUN_LEG_COL, 2651, 2733, 2431, 62, 40, 47, 53,
            [(1877,1942),(1955,2020),(2032,2097),(2185,2251),(2262,2327),(2339,2402),(2493,2564)])

layout["shapes"] = shapes
layout["annotations"] = annots
fig.update_layout(**layout)
fig.write_html("out.html", include_plotlyjs=True, config={"displayModeBar": False}, post_script="document.body.style.margin='0';")
